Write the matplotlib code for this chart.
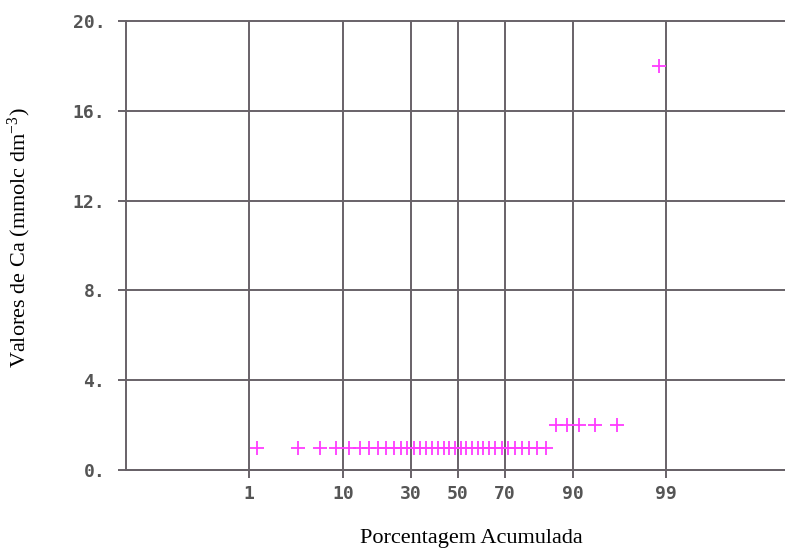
import matplotlib
matplotlib.use("Agg")
import matplotlib.pyplot as plt
from statistics import NormalDist

plt.rcParams["mathtext.fontset"] = "custom"
plt.rcParams["mathtext.rm"] = "Liberation Serif"
plt.rcParams["mathtext.it"] = "Liberation Serif:italic"

# Ca values (mmolc dm-3), sorted sample of 40 observations
ca_values = [1] * 34 + [2] * 5 + [18]

# probability-scale ticks (cumulative percent)
prob_ticks = [1, 10, 30, 50, 70, 90, 99]
prob_labels = ["1", "10", "30", "50", "70", "90", "99"]

y_ticks = [0, 4, 8, 12, 16, 20]
y_labels = ["0.", "4.", "8.", "12.", "16.", "20."]

nd = NormalDist()
n = len(ca_values)
# Hazen plotting positions mapped onto the normal-quantile axis
z_pos = [nd.inv_cdf((i - 0.5) / n) for i in range(1, n + 1)]
z_ticks = [nd.inv_cdf(p / 100) for p in prob_ticks]

W, H = 785, 551
fig = plt.figure(figsize=(W / 100, H / 100), dpi=100)
ax = fig.add_axes([126 / W, 1 - 470 / H, 1 - 126 / W, (470 - 21) / H])

grid_col = "#686268"
txt_col = "#555555"

ax.plot(z_pos, ca_values, linestyle="none", marker="+", markersize=9.5,
        markeredgewidth=1.3, color="#ff3cff", zorder=3, clip_on=False)

ax.set_xlim(-3.70, 3.65)
ax.set_ylim(0, 20)

ax.set_xticks(z_ticks)
ax.set_xticklabels(prob_labels)
ax.set_yticks(y_ticks)
ax.set_yticklabels(y_labels)

for z in z_ticks:
    ax.axvline(z, color=grid_col, lw=1.4, zorder=1)
for y in y_ticks:
    ax.axhline(y, color=grid_col, lw=1.4, zorder=1, clip_on=False)

for s in ["top", "right"]:
    ax.spines[s].set_visible(False)
for s in ["left", "bottom"]:
    ax.spines[s].set_color(grid_col)
    ax.spines[s].set_linewidth(1.4)

ax.tick_params(axis="both", direction="out", length=6, width=1.4,
               color=grid_col)
ax.tick_params(axis="x", pad=5)
ax.tick_params(axis="y", pad=9)
for lab in ax.get_xticklabels() + ax.get_yticklabels():
    lab.set_fontfamily("DejaVu Sans Mono")
    lab.set_fontweight("bold")
    lab.set_fontsize(13)
    lab.set_color(txt_col)

fig.text(471 / W, 1 - 538 / H, "Porcentagem Acumulada", ha="center",
         va="center", fontfamily="Liberation Serif", fontsize=16, color="black")
fig.text(19 / W, 1 - 238 / H, r"Valores de Ca (mmolc dm$^{\mathrm{-3}}$)",
         ha="center", va="center", rotation=90,
         fontfamily="Liberation Serif", fontsize=16, color="black")

fig.savefig("out.png", dpi=100)
